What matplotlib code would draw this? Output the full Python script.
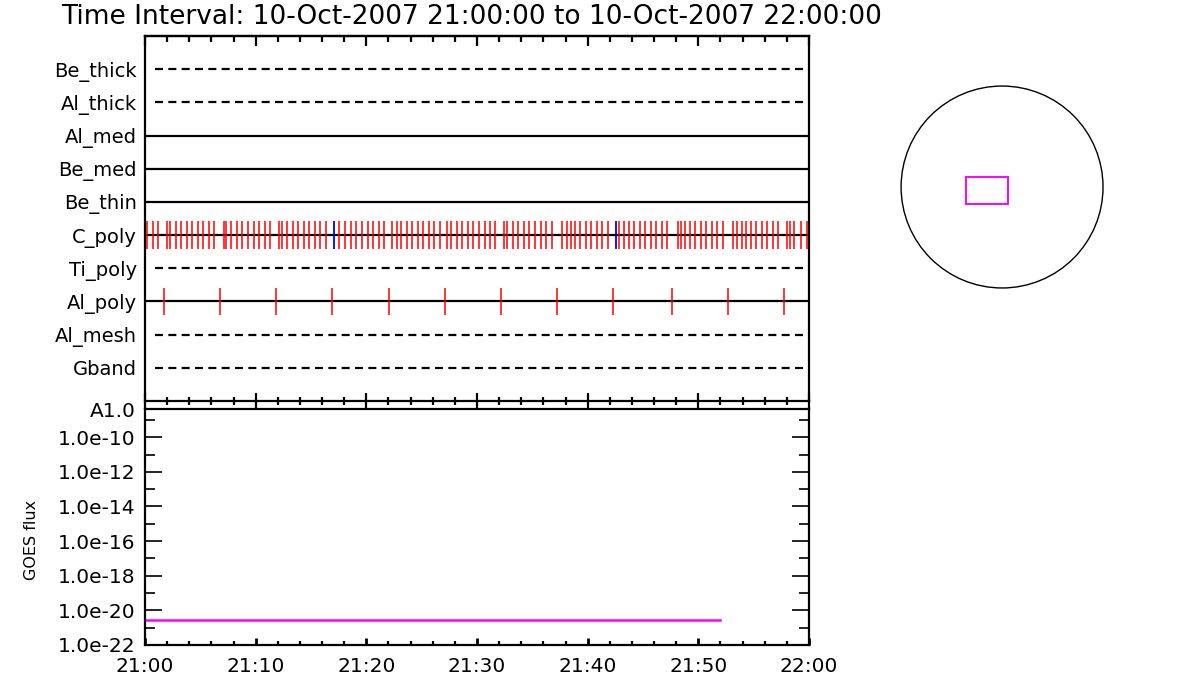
import numpy as np
import matplotlib
matplotlib.use('Agg')
import matplotlib.pyplot as plt
from matplotlib.patches import Circle, Rectangle
from matplotlib.ticker import MultipleLocator, NullFormatter

plt.rcParams['font.family'] = 'DejaVu Sans'

title = 'Time Interval: 10-Oct-2007 21:00:00 to 10-Oct-2007 22:00:00'

# filter rows, bottom to top
filters = ['Gband', 'Al_mesh', 'Al_poly', 'Ti_poly', 'C_poly',
           'Be_thin', 'Be_med', 'Al_med', 'Al_thick', 'Be_thick']
used = [False, False, True, False, True, True, True, True, False, False]

# exposure times, minutes after 21:00
c_poly_red = [0.21, 0.72, 1.20, 2.01, 2.29, 2.77, 3.25, 3.77, 4.25, 4.76, 5.27, 5.78, 6.26,
              7.18, 7.32, 7.80, 8.31, 8.79, 9.31, 9.82, 10.30, 10.82, 11.32,
              12.14, 12.41, 12.83, 13.35, 13.85, 14.34, 14.85, 15.36, 15.84, 16.36,
              17.56, 18.10, 18.59, 19.09, 19.61, 20.12, 20.63, 21.12, 21.62,
              22.35, 22.74, 23.16, 23.65, 24.15, 24.64, 25.15, 25.63, 26.14, 26.63,
              27.29, 27.68, 28.16, 28.67, 29.16, 29.66, 30.15, 30.69, 31.20, 31.65,
              32.47, 32.74, 33.22, 33.73, 34.22, 34.72, 35.24, 35.75, 36.23, 36.75,
              37.71, 38.10, 38.52, 38.83, 39.31, 39.82, 40.30, 40.82, 41.29, 41.81,
              42.80, 43.28, 43.71, 44.21, 44.70, 45.21, 45.69, 46.20, 46.69, 47.14,
              48.13, 48.40, 48.77, 49.22, 49.70, 50.21, 50.69, 51.21, 51.71, 52.20,
              53.10, 53.46, 53.92, 54.31, 54.76, 55.24, 55.75, 56.23, 56.72, 57.22,
              57.98, 58.25, 58.67, 59.30, 59.79]
c_poly_blue = [17.10, 42.59]
al_poly_red = [1.74, 6.80, 11.86, 16.92, 22.07, 27.13, 32.19, 37.25, 42.32,
               47.65, 52.71, 57.77]

time_ticks = [0, 10, 20, 30, 40, 50, 60]
time_labels = ['21:00', '21:10', '21:20', '21:30', '21:40', '21:50', '22:00']

# GOES flux
goes_t = [0, 52]
goes_flux = [10**-20.55, 10**-20.55]
flux_ticks = [10**-8.37, 1e-10, 1e-12, 1e-14, 1e-16, 1e-18, 1e-20, 1e-22]
flux_labels = ['A1.0', '1.0e-10', '1.0e-12', '1.0e-14', '1.0e-16',
               '1.0e-18', '1.0e-20', '1.0e-22']

# field of view on the solar disk (arcsec)
sun_r = 960
fov_x, fov_y, fov_w, fov_h = -342, -162, 399, 257

fig = plt.figure(figsize=(12, 7), dpi=100)
fig.text(0.051, 0.975, title, fontsize=19, va='center', ha='left')

# top panel: filter timeline
ax = fig.add_axes([0.1208, 0.4271, 0.5534, 0.5215])
for i, (name, u) in enumerate(zip(filters, used)):
    y = i + 1
    if u:
        ax.plot([0, 60], [y, y], color='black', lw=1.6)
    else:
        ax.plot([0.9, 60], [y, y], color='black', lw=1.6, dashes=(3.6, 2.4))
cy = filters.index('C_poly') + 1
ay = filters.index('Al_poly') + 1
ax.vlines(c_poly_red, cy - 0.42, cy + 0.42, color='red', lw=1.1)
ax.vlines(c_poly_blue, cy - 0.42, cy + 0.42, color='blue', lw=1.3)
ax.vlines(al_poly_red, ay - 0.42, ay + 0.42, color='red', lw=1.1)
ax.set_xlim(0, 60)
ax.set_ylim(0, 11)
ax.set_yticks(range(1, 11))
ax.set_yticklabels(filters, fontsize=14)
ax.tick_params(axis='y', length=0, pad=6)
ax.xaxis.set_major_locator(MultipleLocator(10))
ax.xaxis.set_minor_locator(MultipleLocator(2))
ax.tick_params(axis='x', which='both', top=False, bottom=True, direction='inout',
               labelbottom=False, width=1.6)
ax.tick_params(axis='x', which='major', length=12)
ax.tick_params(axis='x', which='minor', length=6)
for s in ax.spines.values():
    s.set_linewidth(1.6)

# top ticks point inward only
top = ax.secondary_xaxis('top')
top.xaxis.set_major_locator(MultipleLocator(10))
top.xaxis.set_minor_locator(MultipleLocator(2))
top.tick_params(axis='x', which='both', direction='in', width=1.6, labeltop=False)
top.tick_params(axis='x', which='major', length=7)
top.tick_params(axis='x', which='minor', length=4)
top.spines['top'].set_linewidth(1.6)

# lower panel: GOES flux
ax2 = fig.add_axes([0.1208, 0.0786, 0.5534, 0.3371])
ax2.plot(goes_t, goes_flux, color='magenta', lw=1.8)
ax2.set_yscale('log')
ax2.set_xlim(0, 60)
ax2.set_ylim(1e-22, 10**-8.37)
ax2.set_yticks(flux_ticks)
ax2.set_yticklabels(flux_labels, fontsize=14.5)
ax2.yaxis.set_minor_locator(matplotlib.ticker.LogLocator(base=10, subs=(1.0,), numticks=30))
ax2.yaxis.set_minor_formatter(NullFormatter())
ax2.tick_params(axis='y', which='major', direction='in', length=12, width=1.2,
                left=True, right=True, pad=7)
ax2.tick_params(axis='y', which='minor', direction='in', length=7, width=1.2,
                left=True, right=True)
ax2.set_xticks(time_ticks)
ax2.set_xticklabels(time_labels, fontsize=14.5)
ax2.xaxis.set_minor_locator(MultipleLocator(2))
ax2.tick_params(axis='x', which='major', direction='in', length=5, width=2, pad=9)
ax2.tick_params(axis='x', which='minor', direction='in', length=3, width=1.6)
for s in ax2.spines.values():
    s.set_linewidth(1.6)
fig.text(0.026, 0.229, 'GOES flux', fontsize=11.5, rotation=90, va='center', ha='center')

# solar disk with FOV
ax3 = fig.add_axes([0.7467, 0.5814, 0.1767, 0.3029])
ax3.add_patch(Circle((0, 0), sun_r, fill=False, color='black', lw=1.0))
ax3.add_patch(Rectangle((fov_x, fov_y), fov_w, fov_h, fill=False,
                        edgecolor='magenta', lw=1.4))
ax3.set_xlim(-1008, 1008)
ax3.set_ylim(-1008, 1008)
ax3.set_aspect('equal')
ax3.axis('off')

fig.savefig('out.png', dpi=100)
